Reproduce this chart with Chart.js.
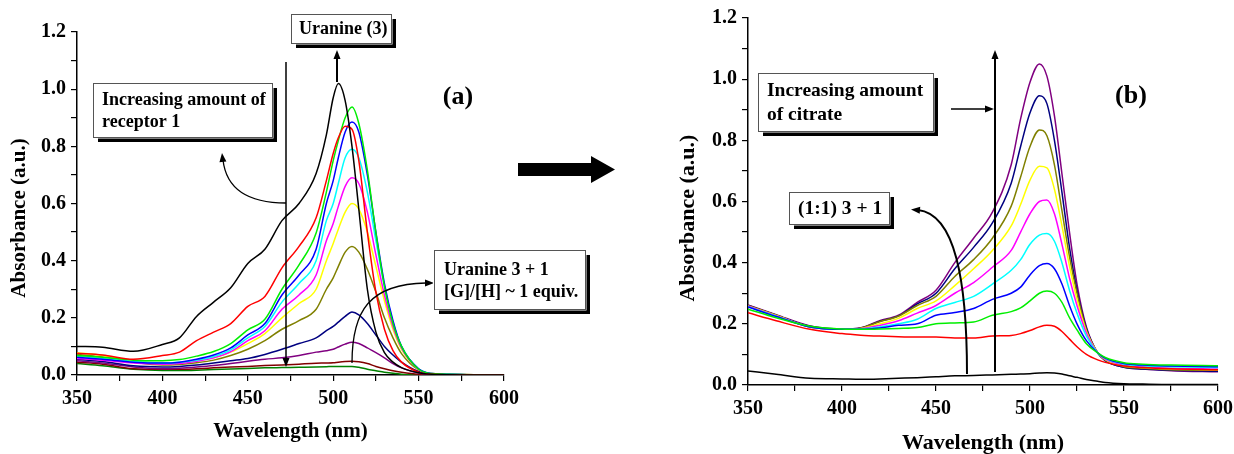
<!DOCTYPE html>
<html>
<head>
<meta charset="utf-8">
<script src="https://cdn.jsdelivr.net/npm/chart.js@4"></script>
<style>
  html, body { margin: 0; padding: 0; background: #fff; }
  #wrap { position: relative; width: 1234px; height: 454px; overflow: hidden; }
  canvas { position: absolute; top: 0; }
</style>
</head>
<body>
<div id="wrap">
  <canvas id="chartA" width="525" height="454" style="left:0"></canvas>
  <canvas id="chartB" width="619" height="454" style="left:620px"></canvas>
  <canvas id="notes" width="1234" height="454" style="left:0"></canvas>
</div>
<script>
// panel (a): uranine 3 titrated with receptor 1
const wavelengthA = [350, 365, 383, 400, 410, 420, 430, 440, 450, 460, 470, 480, 490, 496, 500, 503, 507, 511, 515, 520, 525, 530, 535, 540, 550, 560, 600];
const a_uranine = [0.100, 0.097, 0.083, 0.107, 0.130, 0.205, 0.255, 0.305, 0.390, 0.440, 0.540, 0.600, 0.705, 0.840, 0.970, 1.020, 0.960, 0.800, 0.580, 0.300, 0.150, 0.078, 0.045, 0.026, 0.008, 0.002, 0.000];
const a_red     = [0.076, 0.070, 0.055, 0.068, 0.080, 0.120, 0.150, 0.180, 0.240, 0.275, 0.375, 0.450, 0.550, 0.680, 0.775, 0.830, 0.870, 0.860, 0.750, 0.500, 0.290, 0.160, 0.085, 0.045, 0.010, 0.002, 0.000];
const a_green   = [0.068, 0.062, 0.052, 0.050, 0.054, 0.066, 0.082, 0.110, 0.158, 0.195, 0.300, 0.385, 0.497, 0.640, 0.750, 0.820, 0.900, 0.938, 0.880, 0.717, 0.497, 0.310, 0.180, 0.100, 0.020, 0.004, 0.000];
const a_blue    = [0.062, 0.055, 0.045, 0.042, 0.045, 0.055, 0.070, 0.095, 0.140, 0.180, 0.280, 0.350, 0.440, 0.600, 0.680, 0.760, 0.850, 0.885, 0.850, 0.700, 0.500, 0.320, 0.190, 0.100, 0.022, 0.004, 0.000];
const a_cyan    = [0.065, 0.058, 0.047, 0.042, 0.045, 0.052, 0.065, 0.088, 0.130, 0.170, 0.255, 0.320, 0.400, 0.540, 0.600, 0.670, 0.760, 0.790, 0.760, 0.640, 0.470, 0.310, 0.185, 0.100, 0.022, 0.004, 0.000];
const a_magenta = [0.058, 0.052, 0.042, 0.038, 0.040, 0.048, 0.060, 0.082, 0.120, 0.155, 0.230, 0.280, 0.350, 0.470, 0.530, 0.590, 0.660, 0.690, 0.670, 0.570, 0.420, 0.280, 0.170, 0.095, 0.020, 0.004, 0.000];
const a_yellow  = [0.078, 0.068, 0.050, 0.040, 0.042, 0.050, 0.060, 0.080, 0.110, 0.145, 0.200, 0.250, 0.300, 0.400, 0.460, 0.510, 0.570, 0.600, 0.580, 0.500, 0.380, 0.260, 0.160, 0.090, 0.020, 0.004, 0.000];
const a_olive   = [0.072, 0.063, 0.045, 0.035, 0.037, 0.043, 0.052, 0.068, 0.090, 0.120, 0.160, 0.190, 0.230, 0.300, 0.340, 0.380, 0.430, 0.450, 0.430, 0.370, 0.290, 0.200, 0.130, 0.075, 0.018, 0.004, 0.000];
const a_navy    = [0.055, 0.047, 0.032, 0.028, 0.030, 0.035, 0.042, 0.050, 0.058, 0.072, 0.090, 0.110, 0.130, 0.155, 0.170, 0.185, 0.205, 0.220, 0.210, 0.180, 0.140, 0.100, 0.070, 0.045, 0.012, 0.003, 0.000];
const a_purple  = [0.050, 0.042, 0.028, 0.022, 0.024, 0.028, 0.033, 0.040, 0.048, 0.055, 0.060, 0.068, 0.080, 0.085, 0.090, 0.098, 0.108, 0.115, 0.110, 0.095, 0.078, 0.060, 0.040, 0.025, 0.007, 0.002, 0.000];
const a_maroon  = [0.045, 0.038, 0.022, 0.020, 0.020, 0.022, 0.025, 0.028, 0.030, 0.033, 0.035, 0.038, 0.041, 0.042, 0.043, 0.045, 0.047, 0.048, 0.046, 0.040, 0.030, 0.022, 0.015, 0.010, 0.003, 0.001, 0.000];
const a_dkgreen = [0.040, 0.032, 0.020, 0.016, 0.016, 0.017, 0.019, 0.021, 0.023, 0.025, 0.026, 0.027, 0.028, 0.029, 0.030, 0.030, 0.030, 0.030, 0.027, 0.020, 0.015, 0.010, 0.006, 0.003, 0.001, 0.000, 0.000];

// panel (b): (1:1) 3 + 1 complex titrated with citrate
const wavelengthB = [350, 365, 383, 400, 410, 420, 430, 440, 450, 460, 470, 480, 490, 495, 500, 505, 509, 513, 517, 521, 525, 530, 536, 540, 550, 560, 575, 600];
const b_black   = [0.046, 0.035, 0.022, 0.020, 0.019, 0.020, 0.022, 0.024, 0.027, 0.030, 0.031, 0.033, 0.035, 0.036, 0.037, 0.039, 0.040, 0.039, 0.036, 0.030, 0.025, 0.018, 0.012, 0.008, 0.004, 0.003, 0.002, 0.002];
const b_red     = [0.236, 0.210, 0.182, 0.168, 0.163, 0.160, 0.158, 0.157, 0.157, 0.154, 0.154, 0.160, 0.162, 0.168, 0.178, 0.190, 0.195, 0.192, 0.175, 0.150, 0.125, 0.100, 0.082, 0.074, 0.062, 0.057, 0.053, 0.050];
const b_green   = [0.248, 0.220, 0.192, 0.183, 0.182, 0.183, 0.185, 0.188, 0.200, 0.203, 0.206, 0.228, 0.240, 0.252, 0.275, 0.300, 0.307, 0.300, 0.270, 0.220, 0.180, 0.135, 0.105, 0.090, 0.073, 0.068, 0.065, 0.063];
const b_blue    = [0.255, 0.224, 0.190, 0.182, 0.182, 0.186, 0.195, 0.200, 0.228, 0.237, 0.250, 0.280, 0.300, 0.320, 0.360, 0.390, 0.397, 0.380, 0.330, 0.260, 0.200, 0.145, 0.105, 0.088, 0.070, 0.065, 0.062, 0.060];
const b_cyan    = [0.256, 0.225, 0.190, 0.182, 0.183, 0.190, 0.200, 0.215, 0.250, 0.270, 0.290, 0.330, 0.375, 0.410, 0.460, 0.490, 0.495, 0.470, 0.400, 0.310, 0.235, 0.160, 0.105, 0.087, 0.068, 0.063, 0.060, 0.057];
const b_magenta = [0.258, 0.226, 0.190, 0.182, 0.184, 0.195, 0.210, 0.235, 0.260, 0.300, 0.335, 0.385, 0.440, 0.500, 0.560, 0.600, 0.605, 0.560, 0.460, 0.350, 0.260, 0.170, 0.105, 0.085, 0.065, 0.060, 0.055, 0.052];
const b_yellow  = [0.258, 0.227, 0.190, 0.182, 0.185, 0.200, 0.218, 0.250, 0.275, 0.325, 0.380, 0.440, 0.520, 0.590, 0.670, 0.715, 0.710, 0.640, 0.520, 0.390, 0.280, 0.175, 0.105, 0.083, 0.063, 0.057, 0.053, 0.050];
const b_olive   = [0.260, 0.228, 0.190, 0.182, 0.186, 0.207, 0.225, 0.260, 0.290, 0.355, 0.410, 0.480, 0.585, 0.680, 0.780, 0.834, 0.815, 0.720, 0.570, 0.420, 0.300, 0.180, 0.105, 0.082, 0.060, 0.055, 0.050, 0.048];
const b_navy    = [0.260, 0.228, 0.192, 0.182, 0.186, 0.208, 0.226, 0.265, 0.300, 0.380, 0.450, 0.530, 0.660, 0.780, 0.890, 0.946, 0.920, 0.800, 0.630, 0.450, 0.310, 0.185, 0.105, 0.080, 0.058, 0.052, 0.048, 0.045];
const b_purple  = [0.262, 0.230, 0.193, 0.183, 0.187, 0.210, 0.228, 0.270, 0.310, 0.400, 0.480, 0.565, 0.720, 0.870, 0.990, 1.050, 1.010, 0.880, 0.690, 0.500, 0.330, 0.190, 0.105, 0.080, 0.058, 0.052, 0.047, 0.043];

const xTicks = [350, 400, 450, 500, 550, 600];
const yTicks = [0.0, 0.2, 0.4, 0.6, 0.8, 1.0, 1.2];

const coloursA = ['#000000', '#ff0000', '#00ee00', '#0000ff', '#00ffff', '#ff00ff', '#ffff00', '#808000', '#000080', '#800080', '#800000', '#008000'];
const coloursB = ['#000000', '#ff0000', '#00ee00', '#0000ff', '#00ffff', '#ff00ff', '#ffff00', '#808000', '#000080', '#800080'];

const SERIF = '"Liberation Serif", "Times New Roman", serif';
Chart.defaults.font.family = SERIF;
Chart.defaults.font.weight = 'bold';
Chart.defaults.color = '#000';

function buildChart(id, wl, curves, colours, yWidth, xHeight, pad, titleSize, titlePad) {
  return new Chart(document.getElementById(id), {
    type: 'line',
    data: {
      datasets: curves.map((vals, i) => ({
        data: wl.map((x, j) => ({ x, y: vals[j] })),
        borderColor: colours[i],
        borderWidth: 1.5,
        pointRadius: 0,
        fill: false,
        cubicInterpolationMode: 'monotone'
      }))
    },
    options: {
      responsive: false,
      animation: false,
      devicePixelRatio: 1,
      layout: { padding: pad },
      plugins: { legend: { display: false }, tooltip: { enabled: false } },
      scales: {
        x: {
          type: 'linear', min: 350, max: 600,
          afterFit: s => { s.height = xHeight; },
          ticks: {
            stepSize: 25, autoSkip: false, maxRotation: 0, padding: 6,
            font: { size: 20, weight: 'bold' },
            callback: v => xTicks.includes(v) ? String(v) : ''
          },
          grid: { drawOnChartArea: false, drawTicks: true, tickLength: 6, color: '#000', lineWidth: 1.2 },
          border: { display: true, color: '#000', width: 1.5 },
          title: { display: true, text: 'Wavelength (nm)', font: { size: titleSize, weight: 'bold' }, padding: titlePad }
        },
        y: {
          min: 0, max: 1.2,
          afterFit: s => { s.width = yWidth; },
          ticks: {
            stepSize: 0.1, autoSkip: false, padding: 5,
            font: { size: 20, weight: 'bold' },
            callback: v => {
              const t = Math.round(v * 10) / 10;
              return yTicks.some(k => Math.abs(k - t) < 1e-6) ? t.toFixed(1) : '';
            }
          },
          grid: { drawOnChartArea: false, drawTicks: true, tickLength: 6, color: '#000', lineWidth: 1.2 },
          border: { display: true, color: '#000', width: 1.5 }
        }
      }
    }
  });
}

buildChart('chartA', wavelengthA,
  [a_uranine, a_red, a_green, a_blue, a_cyan, a_magenta, a_yellow, a_olive, a_navy, a_purple, a_maroon, a_dkgreen],
  coloursA, 77, 79, { top: 32, right: 0, left: 0, bottom: 0 }, 21, { top: 0, bottom: 10 });

buildChart('chartB', wavelengthB,
  [b_black, b_red, b_green, b_blue, b_cyan, b_magenta, b_yellow, b_olive, b_navy, b_purple],
  coloursB, 128, 69, { top: 18, right: 0, left: 0, bottom: 0 }, 22, { top: 0, bottom: -3 });

// annotations, arrows and panel labels
const note = document.getElementById('notes').getContext('2d');

function head(x, y, ang) {
  note.save();
  note.translate(x, y);
  note.rotate(ang);
  note.beginPath();
  note.moveTo(0, 0);
  note.lineTo(-9, -3.5);
  note.lineTo(-9, 3.5);
  note.closePath();
  note.fill();
  note.restore();
}

function shadowBox(x, y, w, h, lines, size, tx, ty, gap) {
  note.fillStyle = '#000';
  note.fillRect(x + 5, y + 5, w, h);
  note.fillStyle = '#fff';
  note.fillRect(x - 1, y - 1, w + 2.5, h + 2.5);
  note.strokeStyle = '#555';
  note.lineWidth = 1;
  note.strokeRect(x + 0.5, y + 0.5, w, h);
  note.fillStyle = '#000';
  note.font = `bold ${size}px ${SERIF}`;
  note.textBaseline = 'middle';
  note.textAlign = 'left';
  lines.forEach((t, i) => note.fillText(t, tx, ty + i * gap));
}

function stroke(width, draw) {
  note.strokeStyle = '#000';
  note.fillStyle = '#000';
  note.lineWidth = width;
  note.beginPath();
  draw();
  note.stroke();
}

function yTitle(text, x, y, size) {
  note.save();
  note.translate(x, y);
  note.rotate(-Math.PI / 2);
  note.font = `bold ${size}px ${SERIF}`;
  note.fillStyle = '#000';
  note.textAlign = 'center';
  note.textBaseline = 'middle';
  note.fillText(text, 0, 0);
  note.restore();
}

yTitle('Absorbance (a.u.)', 19.5, 218, 21);
yTitle('Absorbance (a.u.)', 688, 218, 22);

// panel (a)
stroke(2, () => { note.moveTo(337, 82); note.lineTo(337, 56); });
head(337, 50, -Math.PI / 2);
stroke(1.5, () => { note.moveTo(286, 62); note.lineTo(286, 360); });
head(286, 367, Math.PI / 2);
stroke(1.3, () => { note.moveTo(286, 203); note.quadraticCurveTo(228, 203, 223, 160); });
head(222, 153, Math.atan2(-48, -5));
stroke(1.3, () => { note.moveTo(352, 363); note.bezierCurveTo(352, 310, 370, 284, 426, 283); });
head(434, 283, 0);

shadowBox(291, 14, 100, 29, ['Uranine (3)'], 18, 299, 29, 0);
shadowBox(93, 83, 179, 54, ['Increasing amount of', 'receptor 1'], 18, 102, 100, 22);
shadowBox(434, 250, 151, 59, ['Uranine 3 + 1', '[G]/[H] ~ 1 equiv.'], 18, 444, 270, 22);

note.font = `bold 26px ${SERIF}`;
note.textAlign = 'center';
note.textBaseline = 'middle';
note.fillText('(a)', 458, 97);

// big arrow between panels
note.beginPath();
note.moveTo(518, 163); note.lineTo(591, 163); note.lineTo(591, 156);
note.lineTo(615, 169.5); note.lineTo(591, 183); note.lineTo(591, 176);
note.lineTo(518, 176); note.closePath();
note.fillStyle = '#000';
note.fill();

// panel (b)
stroke(1.3, () => { note.moveTo(951, 109); note.lineTo(987, 109); });
head(994, 109, 0);
stroke(2, () => { note.moveTo(995, 372); note.lineTo(995, 58); });
head(995, 50, -Math.PI / 2);
stroke(2, () => { note.moveTo(967, 374); note.bezierCurveTo(967, 280, 955, 214, 918, 210); });
head(911, 209.5, Math.PI + 0.08);

shadowBox(758, 73, 175, 58, ['Increasing amount', 'of citrate'], 19.5, 767, 91, 24);
shadowBox(789, 192, 100, 32, ['(1:1) 3 + 1'], 19.5, 798, 209, 0);

note.font = `bold 26px ${SERIF}`;
note.textAlign = 'center';
note.textBaseline = 'middle';
note.fillText('(b)', 1131, 96);
</script>
</body>
</html>
